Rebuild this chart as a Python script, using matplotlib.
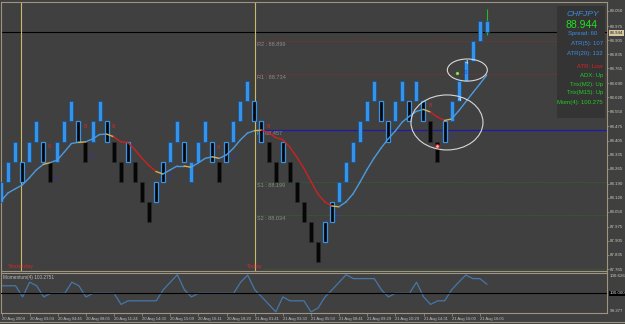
import numpy as np
import matplotlib
matplotlib.use("Agg")
import matplotlib.pyplot as plt
from matplotlib.patches import Ellipse, Rectangle
from matplotlib.lines import Line2D

plt.rcParams['font.family'] = ['Liberation Sans', 'DejaVu Sans']

# renko bricks (10 pip bricks), low of each brick, last one is still forming
brick_low = [88.1, 88.2, 88.3, 88.2, 88.3, 88.4, 88.3, 88.2, 88.3, 88.4,
             88.5, 88.4, 88.3, 88.4, 88.5, 88.4, 88.3, 88.2, 88.3, 88.2,
             88.1, 88.0, 88.1, 88.2, 88.3, 88.4, 88.3, 88.2, 88.3, 88.4,
             88.3, 88.2, 88.3, 88.4, 88.5, 88.6, 88.5, 88.4, 88.3, 88.2,
             88.3, 88.2, 88.1, 88.0, 87.9, 87.8, 87.9, 88.0, 88.1, 88.2,
             88.3, 88.4, 88.5, 88.6, 88.5, 88.4, 88.5, 88.6, 88.5, 88.6,
             88.5, 88.4, 88.3, 88.4, 88.5, 88.6, 88.7, 88.8, 88.9, 88.944]
brick_size = 0.1
last_high = 89.0
last_wick = (88.93, 89.058)
# b = bull body, k = bear body, m = mixed outline
brick_kind = "bbbmbbmkbbbmkbbmkkmkkkmmbbmbbbmkmbbbmmkkmkkkkkmmbbbbbbmmbbmbmkkmbbbbbb"

ma = [88.104, 88.144, 88.164, 88.183, 88.218, 88.258, 88.286, 88.295, 88.308, 88.348,
      88.390, 88.396, 88.398, 88.413, 88.435, 88.437, 88.424, 88.399, 88.395, 88.360,
      88.318, 88.281, 88.251, 88.238, 88.258, 88.278, 88.278, 88.272, 88.293, 88.316,
      88.324, 88.316, 88.333, 88.366, 88.408, 88.442, 88.454, 88.457, 88.445, 88.420,
      88.410, 88.373, 88.323, 88.268, 88.203, 88.139, 88.099, 88.079, 88.075, 88.099,
      88.139, 88.198, 88.261, 88.318, 88.368, 88.413, 88.452, 88.497, 88.525, 88.550,
      88.560, 88.547, 88.522, 88.505, 88.512, 88.552, 88.597, 88.642, 88.686, 88.731]
ma_state = ("bbbbbb" + "y" + "bbbb" + "y" + "bbb" + "y" + "rrrrrr" + "y" + "bbb" + "y"
            + "bbb" + "y" + "bbbbb" + "y" + "rrrrrrrrrr" + "y" + "bbbbbbbbbbbb" + "y"
            + "rr" + "y" + "bbbbb")

momentum = [100.23, 100.23, 100.23, 99.89, 100.34, 100.23, 99.89, 100.00, 100.00, 100.00,
            100.34, 100.23, 99.89, 100.00, 100.00, 100.00, 100.00, 99.66, 99.77, 99.77,
            99.77, 99.77, 99.77, 100.11, 100.34, 100.57, 100.11, 99.89, 100.00, 100.00,
            100.00, 100.00, 100.00, 100.00, 100.34, 100.56, 100.11, 99.89, 99.66, 99.43,
            99.89, 99.77, 99.77, 99.77, 99.43, 99.55, 99.89, 100.11, 100.34, 100.57,
            100.45, 100.45, 100.45, 100.45, 100.11, 99.89, 100.00, 100.00, 100.00, 100.34,
            99.89, 99.66, 99.77, 99.77, 100.11, 100.34, 100.56, 100.45, 100.45, 100.28]

pivot_names = ["R2", "R1", "P", "S1", "S2"]
pivot_values = [88.899, 88.734, 88.457, 88.199, 88.034]
s3_value = 87.766
bid = 88.944
day_breaks = [3.9, 37.1]
day_names = ["Yesterday", "Today"]

price_ticks = [89.050, 88.975, 88.905, 88.835, 88.765, 88.690, 88.620, 88.550, 88.475,
               88.405, 88.335, 88.265, 88.190, 88.120, 88.050, 87.975, 87.905, 87.835, 87.765]
mom_labels = ["100.626", "100.000", "99.377"]

date_bars = [1, 5, 9, 13, 17, 21, 25, 29, 33, 37, 41, 45, 49, 53, 57, 61, 65, 69]
date_labels = ["20 Aug 2009", "20 Aug 03:04", "20 Aug 04:45", "20 Aug 08:05", "20 Aug 11:24",
               "20 Aug 14:30", "20 Aug 15:09", "20 Aug 16:11", "20 Aug 18:20", "21 Aug 01:41",
               "21 Aug 03:30", "21 Aug 05:50", "21 Aug 08:41", "21 Aug 09:29", "21 Aug 10:29",
               "21 Aug 14:31", "21 Aug 16:00", "21 Aug 16:05"]

# small signal labels on the chart
sig_x = [7.86, 8.91, 12.93, 13.88, 16.95, 25.0, 31.92, 34.0, 38.97, 49.0, 61.94, 65.02, 66.1, 66.91, 67.15]
sig_y = [88.374, 88.217, 88.474, 88.324, 88.474, 88.225, 88.371, 88.324, 88.474, 88.034,
         88.577, 88.421, 88.610, 88.743, 88.793]
sig_txt = ["0", "2", "8", "0", "8", "0", "8", "0", "8", "0", "8", "0", "4", "0", "4"]
sig_col = ["r", "u", "r", "u", "r", "u", "r", "u", "r", "u", "r", "u", "w", "u", "w"]

info_lines = ["ATR(5): 107", "ATR(20): 132", "ATR: Low", "ADX: Up", "Trix(M2): Up",
              "Trix(M15): Up", "Mom(4): 100.275"]

BG = "#404040"
BORDER = "#9d957f"
BLUE = "#3594ea"
W, H = 625, 324

fig = plt.figure(figsize=(W / 100, H / 100), dpi=100, facecolor=BG)


def pax(l, t, r, b):
    return fig.add_axes([l / W, 1 - b / H, (r - l) / W, (b - t) / H])


def px_x(px):
    return 1 + (px - 1) / 7.04


x = np.arange(1, len(brick_low) + 1)
xlim = (px_x(1.5), px_x(607))

ax = pax(1.5, 1.5, 607, 271)
ax.set_facecolor(BG)
ax.set_xlim(*xlim)
ax.set_ylim(89.050 - 260 / 200.8, 89.050 + 9.5 / 200.8)
for s in ax.spines.values():
    s.set_color(BORDER)
    s.set_linewidth(0.8)
ax.set_xticks([])
ax.yaxis.tick_right()
ax.set_yticks(price_ticks)
ax.set_yticklabels(["%.3f" % v for v in price_ticks])
ax.tick_params(axis='y', length=1.5, width=0.5, color=BORDER, labelsize=3.2,
               labelcolor="#c8c8c0", pad=0.8)

# pivot levels from today's separator
x0 = day_breaks[1]
for name, v in zip(pivot_names, pivot_values):
    if name == "P":
        ax.hlines(v, x0, xlim[1], color="#1c1ca8", lw=0.9, zorder=1)
    elif name.startswith("R"):
        ax.hlines(v, x0, xlim[1], color="#8a3030", lw=0.6, ls=(0, (1.5, 1.5)), zorder=1)
    else:
        ax.hlines(v, x0, xlim[1], color="#2f6a2f", lw=0.6, ls=(0, (1.5, 1.5)), zorder=1)
    ax.text(x0 + 0.3, v - 0.017, "%s : %.3f" % (name, v), fontsize=4, color="#8c8c8c",
            va="center", ha="left", zorder=2)
ax.hlines(s3_value, px_x(263), xlim[1], color="#2f6a2f", lw=0.6, ls=(0, (1.5, 1.5)), zorder=1)

ax.axhline(bid, color="black", lw=0.8, zorder=1)

for xb, name in zip(day_breaks, day_names):
    ax.axvline(xb, color="#c8bb66", lw=0.8, zorder=1)
    ax.text(xb, 87.780, name, fontsize=4.2, color="#cc2a2a", ha="center", va="center")

# bricks
lo = np.array(brick_low)
hi = lo + brick_size
hi[-1] = last_high
ax.vlines(x[-1], last_wick[0], last_wick[1], color="#22bb22", lw=0.8, zorder=2)
styles = {"b": (BLUE, "#16508c", 0.5), "k": ("#060606", "#2a2a2a", 0.5),
          "m": ("#060606", BLUE, 0.9)}
for k, (fc, ec, lw) in styles.items():
    idx = [i for i, c in enumerate(brick_kind) if c == k]
    ax.bar(x[idx], hi[idx] - lo[idx], bottom=lo[idx], width=0.57, color=fc,
           edgecolor=ec, linewidth=lw, zorder=3)

# coloured moving average
ma_cols = {"b": "#4a9be0", "r": "#cc2222", "y": "#d9b24a"}
for i, c in enumerate(ma_state):
    ax.plot(x[i:i + 2], ma[i:i + 2], color=ma_cols[c], lw=1.0, zorder=4,
            solid_capstyle="round")

txt_cols = {"r": "#d02828", "u": "#3030c0", "w": "#e8e8e8"}
for sx, sy, t, c in zip(sig_x, sig_y, sig_txt, sig_col):
    ax.text(sx, sy, t, fontsize=4.3, color=txt_cols[c], ha="center", va="center", zorder=5)
ax.plot(62.89, 88.378, "o", ms=2.6, mfc="#ffb0b0", mec="#dd2222", mew=0.6, zorder=6)
ax.plot(65.77, 88.743, "o", ms=2.0, mfc="#99ff66", mec="#66cc33", mew=0.4, zorder=6)

ax.add_patch(Ellipse((64.35, 88.495), 10.23, 0.274, fill=False, ec="#d8d8d8", lw=0.8, zorder=6))
ax.add_patch(Ellipse((67.24, 88.756), 5.68, 0.110, fill=False, ec="#d8d8d8", lw=0.8, zorder=6))

# momentum window
mx = pax(1.5, 272.5, 607, 313)
mx.set_facecolor(BG)
mx.set_xlim(*xlim)
mx.set_ylim(100 - 19.7 * 0.0306, 100 + 20.8 * 0.0306)
for s in mx.spines.values():
    s.set_color(BORDER)
    s.set_linewidth(0.8)
mx.plot(x, momentum, color="#4677aa", lw=0.9, zorder=2)
mx.axhline(100, color="black", lw=0.8, zorder=3)
mx.set_yticks([])
mx.set_xticks(date_bars)
mx.set_xticklabels(date_labels, ha="left")
mx.tick_params(axis='x', length=2, width=0.5, color=BORDER, labelsize=3.0,
               labelcolor="#c0c0c0", pad=1.2)
fig.text(3 / W, 1 - 277 / H, "Momentum(4) 100.2751", fontsize=3.4, color="#b8b8b8",
         ha="left", va="center")
fig.text(609.5 / W, 1 - 276 / H, mom_labels[0], fontsize=3.2, color="#c8c8c0", va="center")
fig.text(610 / W, 1 - 293.3 / H, mom_labels[1], fontsize=3.2, color="#e0e0e0", va="center",
         bbox=dict(boxstyle="square,pad=0.12", fc="black", ec="none"))
fig.text(609.5 / W, 1 - 310.5 / H, mom_labels[2], fontsize=3.2, color="#c8c8c0", va="center")

fig.text(609.5 / W, 1 - 33 / H, "%.3f" % bid, fontsize=3.2, color="#202020", va="center",
         bbox=dict(boxstyle="square,pad=0.12", fc="#d8c9a2", ec="none"), zorder=5)

fig.add_artist(Line2D([0, 1], [1 - 322 / H] * 2, color=BORDER, lw=0.8))

# info panel
fig.add_artist(Rectangle((557 / W, 1 - 118 / H), 48 / W, 112 / H, transform=fig.transFigure,
                         fc="#343434", ec="none", zorder=2))
fig.text(583 / W, 1 - 15 / H, "CHFJPY", fontsize=6, color="#3a8ee6", ha="center",
         va="center", style="italic", zorder=4)
fig.text(582 / W, 1 - 25.5 / H, "%.3f" % bid, fontsize=7.5, color="#22e022", ha="center",
         va="center", zorder=4)
fig.text(583 / W, 1 - 34 / H, "Spread: 60", fontsize=4.3, color="#3a8ee6", ha="center",
         va="center", zorder=4)
info_y = [44, 53, 66.5, 75.5, 84.5, 93, 102]
info_c = ["#3a8ee6", "#3a8ee6", "#dd2222", "#22cc22", "#22cc22", "#22cc22", "#22cc22"]
for t, yy, c in zip(info_lines, info_y, info_c):
    fig.text(603 / W, 1 - yy / H, t, fontsize=4.3, color=c, ha="right", va="center", zorder=4)

fig.savefig("out.png", dpi=100, facecolor=BG)
